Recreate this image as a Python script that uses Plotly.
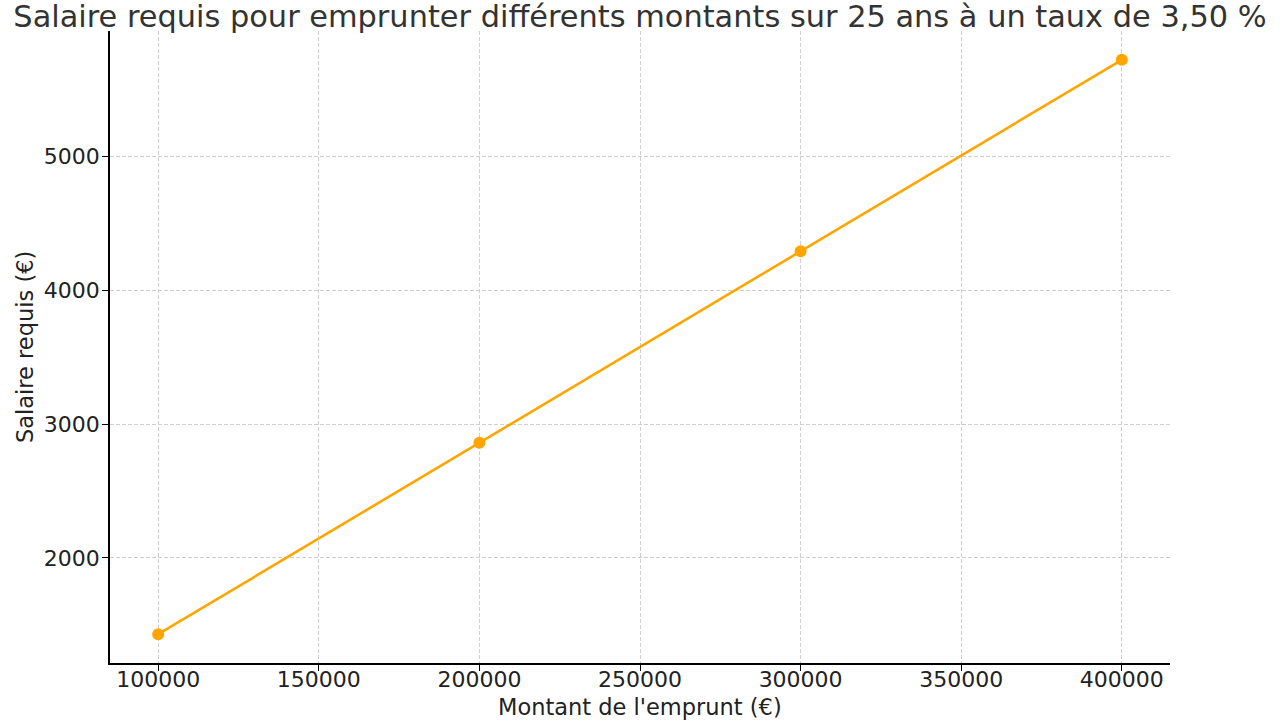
import plotly.graph_objects as go

montants = [100000, 200000, 300000, 400000]
salaires = [1430, 2861, 4291, 5721]
x_ticks = [100000, 150000, 200000, 250000, 300000, 350000, 400000]
y_ticks = [2000, 3000, 4000, 5000]

font = "DejaVu Sans, Liberation Sans, sans-serif"

fig = go.Figure()
fig.add_trace(go.Scatter(
    x=montants, y=salaires, mode="lines+markers",
    line=dict(color="#FFA500", width=2.6),
    marker=dict(color="#FFA500", size=12),
))

axis_common = dict(
    showline=True, linecolor="black", linewidth=1.6,
    ticks="outside", ticklen=6, tickcolor="black", tickwidth=1.3,
    showgrid=True, gridcolor="#cfcfcf", griddash="4px,2px", gridwidth=1,
    zeroline=False, mirror=False, automargin=False,
    tickfont=dict(family=font, size=22, color="#222"),
)

fig.update_layout(
    width=1280, height=720,
    paper_bgcolor="white", plot_bgcolor="white",
    margin=dict(l=110, r=110, t=31, b=57),
    showlegend=False,
    font=dict(family=font, color="#222"),
    title=dict(
        text="Salaire requis pour emprunter différents montants sur 25 ans à un taux de 3,50 %",
        font=dict(family=font, size=30.4, color="#333"),
        x=0.5, xanchor="center", y=1, yanchor="top", pad=dict(t=6),
    ),
    xaxis=dict(
        **axis_common,
        range=[85000, 415000],
        tickvals=x_ticks, ticktext=[str(v) for v in x_ticks],
        ticklabelstandoff=-10,
    ),
    yaxis=dict(
        **axis_common,
        range=[1215, 5936],
        tickvals=y_ticks, ticktext=[str(v) for v in y_ticks],
        ticklabelstandoff=-2,
    ),
)

# axis titles placed as annotations so they sit where the reference puts them
fig.add_annotation(
    text="Montant de l'emprunt (€)", xref="paper", yref="paper", x=0.5, y=0,
    xanchor="center", yanchor="middle", yshift=-44, showarrow=False,
    font=dict(family=font, size=22.5, color="#222"),
)
fig.add_annotation(
    text="Salaire requis (€)", xref="paper", yref="paper", x=0, y=0.5,
    xanchor="center", yanchor="middle", xshift=-85, textangle=-90, showarrow=False,
    font=dict(family=font, size=22.5, color="#222"),
)

# drop the default body margin so the 1280x720 figure fills the window exactly
fig.write_html(
    "out.html",
    config={"displayModeBar": False},
    post_script="document.body.style.margin='0';",
)
